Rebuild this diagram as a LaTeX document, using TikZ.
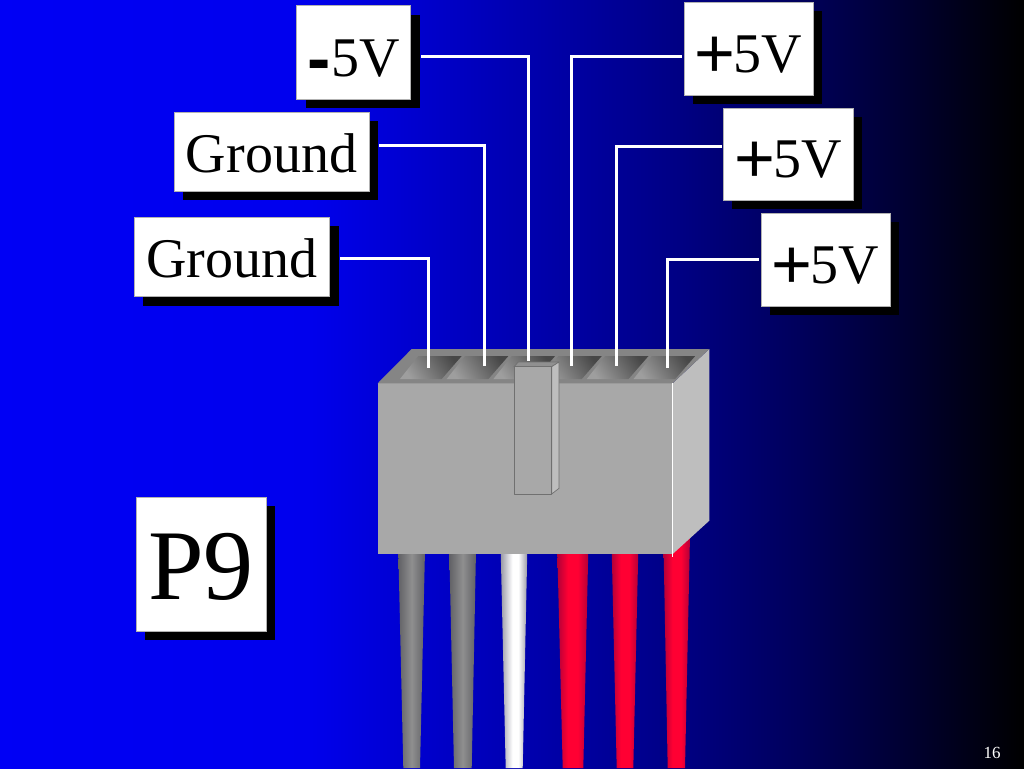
\documentclass[tikz,border=0pt]{standalone}
\usepackage{fontspec}
\setmainfont{Liberation Serif}
\newfontfamily\signfont{Liberation Sans}
\usetikzlibrary{shadows}
\pgfdeclarelayer{fg}
\pgfsetlayers{main,fg}
\pgfdeclarehorizontalshading{bgshade}{100bp}{rgb(0bp)=(0,0,.96);rgb(25bp)=(0,0,.96);rgb(40bp)=(0,0,.93);rgb(50bp)=(0,0,.70);rgb(58bp)=(0,0,.52);rgb(64bp)=(0,0,.36);rgb(69bp)=(0,0,.20);rgb(75bp)=(0,0,0);rgb(100bp)=(0,0,0)}
\pgfdeclarehorizontalshading{greywire}{100bp}{rgb(0bp)=(.38,.38,.40);rgb(25bp)=(.38,.38,.40);rgb(50bp)=(.56,.56,.56);rgb(75bp)=(.38,.38,.40);rgb(100bp)=(.38,.38,.40)}
\pgfdeclarehorizontalshading{whitewire}{100bp}{rgb(0bp)=(.60,.60,.65);rgb(25bp)=(.60,.60,.65);rgb(47bp)=(1,1,1);rgb(58bp)=(1,1,1);rgb(75bp)=(.60,.60,.65);rgb(100bp)=(.60,.60,.65)}
\pgfdeclarehorizontalshading{redwire}{100bp}{rgb(0bp)=(.70,0,.22);rgb(25bp)=(.70,0,.22);rgb(42bp)=(1,0,.20);rgb(58bp)=(1,0,.20);rgb(75bp)=(.70,0,.22);rgb(100bp)=(.70,0,.22)}
\definecolor{bodyfront}{HTML}{A8A8A8}
\definecolor{bodyside}{HTML}{BEBEBE}
\definecolor{bodytop}{HTML}{858585}
\definecolor{latchedge}{HTML}{707070}
\definecolor{latchtop}{HTML}{909090}
\tikzset{
  label box/.style={draw=black!30!white,line width=.7pt,fill=white,inner sep=0pt,
    font=\fontsize{56}{60}\selectfont,text=black,text depth=0pt,
    drop shadow={shadow xshift=9pt,shadow yshift=-9pt,fill=black,opacity=1}},
  lead/.style={draw=white,line width=3pt},
  slot/.style={top color=black!72!white,bottom color=black!38!white,shading angle=-55},
  wire grey/.style={shading=greywire},
  wire white/.style={shading=whitewire},
  wire red/.style={shading=redwire},
}
\newcommand{\plussign}{\raisebox{-5pt}[0pt][0pt]{\signfont\fontsize{70}{70}\selectfont +}\kern-2pt}
\newcommand{\minussign}{\raisebox{-6pt}[0pt][0pt]{\signfont\bfseries\fontsize{70}{70}\selectfont -}}
\begin{document}
\begin{tikzpicture}[x=1pt,y=-1pt]
\useasboundingbox (0,0) rectangle (1024,768);
\shade[shading=bgshade] (0,0) rectangle (1024,768);
% wires
\shade[wire grey] (398.3,550) -- (425,550) -- (420,768) -- (403.3,768) -- cycle;
\shade[wire grey] (449.3,550) -- (476,550) -- (471.7,768) -- (454,768) -- cycle;
\shade[wire white] (500.7,550) -- (527.3,550) -- (522.7,768) -- (505.7,768) -- cycle;
\shade[wire red] (557.3,550) -- (588.3,550) -- (583.3,768) -- (562.7,768) -- cycle;
\shade[wire red] (611.7,550) -- (638.3,550) -- (633.3,768) -- (616.7,768) -- cycle;
\shade[wire red] (663.3,535) -- (690,535) -- (685,768) -- (667.7,768) -- cycle;
% connector body
\fill[bodyfront] (377.7,383.3) rectangle (672.7,554);
\fill[bodyside] (672.7,383.3) -- (709.3,349) -- (709.3,520.7) -- (672.7,554) -- cycle;
\fill[bodytop] (377.7,383.3) -- (411.7,349) -- (709.3,349) -- (672.7,383.3) -- cycle;
\draw[white,line width=1.4pt] (672.7,383.3) -- (672.7,557);
% slots
\foreach \d in {0,46.7,93.4,140.1,186.8,233.5}
  \shade[slot] (400+\d,379) -- (418.3+\d,356) -- (461.7+\d,356) -- (441.7+\d,379) -- cycle;
% labels
\begin{pgfonlayer}{fg}
\node[label box,text height=48pt,minimum width=114pt,minimum height=93.3pt] (m5) at (353.7,52.3) {\minussign 5V};
\node[label box,text height=42pt,minimum width=195pt,minimum height=79pt] (g1) at (271.5,151.5) {Ground};
\node[label box,text height=41pt,minimum width=195.4pt,minimum height=79.4pt] (g2) at (232,257) {Ground};
\node[label box,text height=47.6pt,minimum width=129pt,minimum height=93pt] (p1) at (748.5,48.5) {\plussign 5V};
\node[label box,text height=47pt,minimum width=130pt,minimum height=92pt] (p2) at (788,154) {\plussign 5V};
\node[label box,text height=47pt,minimum width=129pt,minimum height=93pt] (p3) at (825.5,259.5) {\plussign 5V};
\node[label box,text height=71pt,minimum width=130pt,minimum height=134pt,font=\fontsize{100}{104}\selectfont] (p9) at (201,564) {P9};
\end{pgfonlayer}
\node[text=white,font=\fontsize{17}{18}\selectfont,inner sep=0pt] (page) at (992,753) {16};
% pin ends
\coordinate (e1) at (428.7,368);
\coordinate (e2) at (484,366);
\coordinate (e3) at (528,361);
\coordinate (e4) at (571.3,366);
\coordinate (e5) at (616,366);
\coordinate (e6) at (667,368);
% leads
\draw[lead] ([xshift=10pt,yshift=-1pt]g2.east) -| (e1);
\draw[lead] ([xshift=10pt,yshift=6.5pt]g1.east) -| (e2);
\draw[lead] ([xshift=10pt,yshift=-4.7pt]m5.east) -| (e3);
\draw[lead] ([xshift=-2pt,yshift=-8.5pt]p1.west) -| (e4);
\draw[lead] ([xshift=-1pt,yshift=8pt]p2.west) -| (e5);
\draw[lead] ([xshift=-2pt,yshift=.5pt]p3.west) -| (e6);
% latch
\begin{scope}[draw=latchedge,line width=.7pt,line join=round]
\filldraw[fill=latchtop] (514,366.7) -- (518.3,362) -- (559,362) -- (551.7,366.7) -- cycle;
\filldraw[fill=bodyside] (551.7,366.7) -- (559,362) -- (559,488.3) -- (551.7,494) -- cycle;
\filldraw[fill=bodyfront] (514,366.7) rectangle (551.7,494);
\end{scope}
\end{tikzpicture}
\end{document}
